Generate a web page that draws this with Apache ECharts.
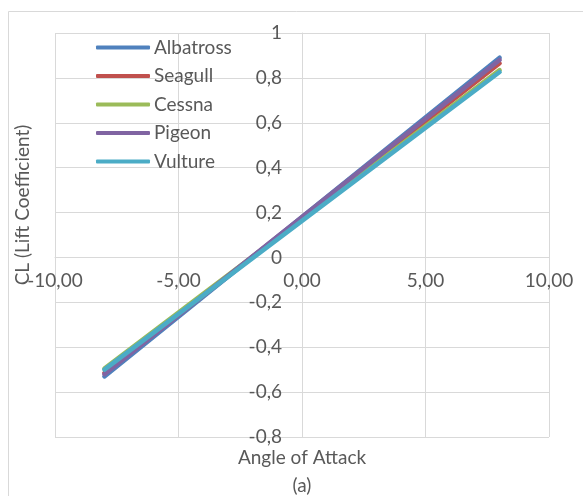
<!DOCTYPE html>
<html>
<head>
<meta charset="utf-8">
<script src="https://cdn.jsdelivr.net/npm/echarts@6/dist/echarts.min.js"></script>
<style>
  html, body { margin: 0; padding: 0; background: #fff; }
  #chart { width: 583px; height: 496px; }
</style>
</head>
<body>
<div id="chart"></div>
<script>
// Angle of attack (degrees) at which CL was sampled
const angles = [-8, -4, 0, 4, 8];

// Lift coefficient per airfoil
const albatross = [-0.530, -0.175, 0.180, 0.535, 0.890];
const seagull   = [-0.515, -0.170, 0.175, 0.520, 0.865];
const cessna    = [-0.495, -0.162, 0.170, 0.502, 0.835];
const pigeon    = [-0.520, -0.170, 0.180, 0.530, 0.880];
const vulture   = [-0.500, -0.169, 0.163, 0.495, 0.826];

const seriesNames = ['Albatross', 'Seagull', 'Cessna', 'Pigeon', 'Vulture'];
const seriesValues = [albatross, seagull, cessna, pigeon, vulture];
const seriesColors = ['#4F81BD', '#C0504D', '#9BBB59', '#8064A2', '#4BACC6'];

// Axis ranges
const xMin = -10, xMax = 10, xStep = 5;
const yMin = -0.8, yMax = 1, yStep = 0.2;

const FONT = 'Lato';
const TEXT = '#595959';
const GRID = '#d9d9d9';

const comma = s => String(s).replace('.', ',');

const gridBox = { left: 55, right: 34, top: 33, bottom: 59 };
const plotW = 583 - gridBox.left - gridBox.right;
const plotH = 496 - gridBox.top - gridBox.bottom;

// Axes cross at the origin: shift each axis from its default edge to the zero line
const xAxisShift = -plotH * (0 - yMin) / (yMax - yMin);
const yAxisShift = -plotW * (0 - xMin) / (xMax - xMin);

const chart = echarts.init(document.getElementById('chart'), null, { renderer: 'canvas' });

chart.setOption({
  animation: false,
  backgroundColor: '#ffffff',
  textStyle: { fontFamily: FONT, color: TEXT },
  grid: Object.assign({ containLabel: false }, gridBox),
  legend: {
    orient: 'vertical',
    left: 96,
    top: 38,
    padding: 0,
    itemWidth: 54,
    itemHeight: 4,
    itemGap: 9.5,
    icon: 'roundRect',
    data: seriesNames,
    textStyle: { fontFamily: FONT, fontSize: 19, color: TEXT, padding: [0, 0, 0, -1], lineHeight: 18 }
  },
  xAxis: {
    type: 'value',
    min: xMin,
    max: xMax,
    interval: xStep,
    offset: xAxisShift,
    axisLine: { onZero: false, lineStyle: { color: GRID, width: 1 } },
    axisTick: { show: false },
    splitLine: { lineStyle: { color: GRID, width: 1 } },
    axisLabel: {
      margin: 14,
      fontFamily: FONT,
      fontSize: 19,
      color: TEXT,
      formatter: v => comma(v.toFixed(2))
    }
  },
  yAxis: {
    type: 'value',
    min: yMin,
    max: yMax,
    interval: yStep,
    offset: yAxisShift,
    axisLine: { onZero: false, lineStyle: { color: GRID, width: 1 } },
    axisTick: { show: false },
    splitLine: { lineStyle: { color: GRID, width: 1 } },
    axisLabel: {
      margin: 20,
      fontFamily: FONT,
      fontSize: 19,
      color: TEXT,
      formatter: v => comma(Math.round(v * 10) / 10)
    }
  },
  series: seriesNames.map((name, i) => ({
    name: name,
    type: 'line',
    showSymbol: false,
    symbol: 'none',
    color: seriesColors[i],
    lineStyle: { width: 4.5, cap: 'round', color: seriesColors[i] },
    data: angles.map((a, j) => [a, seriesValues[i][j]])
  })),
  graphic: [
    {
      type: 'rect',
      silent: true,
      z: -1,
      shape: { x: 8.5, y: 11.5, width: 700, height: 700 },
      style: { fill: 'none', stroke: GRID, lineWidth: 1 }
    },
    {
      type: 'text',
      x: 302,
      y: 458,
      style: {
        text: 'Angle of Attack',
        fontFamily: FONT, fontSize: 19, fill: TEXT,
        textAlign: 'center', textVerticalAlign: 'middle'
      }
    },
    {
      type: 'text',
      x: 302,
      y: 486,
      style: {
        text: '(a)',
        fontFamily: FONT, fontSize: 19, fill: TEXT,
        textAlign: 'center', textVerticalAlign: 'middle'
      }
    },
    {
      type: 'text',
      x: 23,
      y: 205,
      rotation: Math.PI / 2,
      style: {
        text: 'CL (Lift Coefficient)',
        fontFamily: FONT, fontSize: 19, fill: TEXT,
        textAlign: 'center', textVerticalAlign: 'middle'
      }
    }
  ]
});
</script>
</body>
</html>
